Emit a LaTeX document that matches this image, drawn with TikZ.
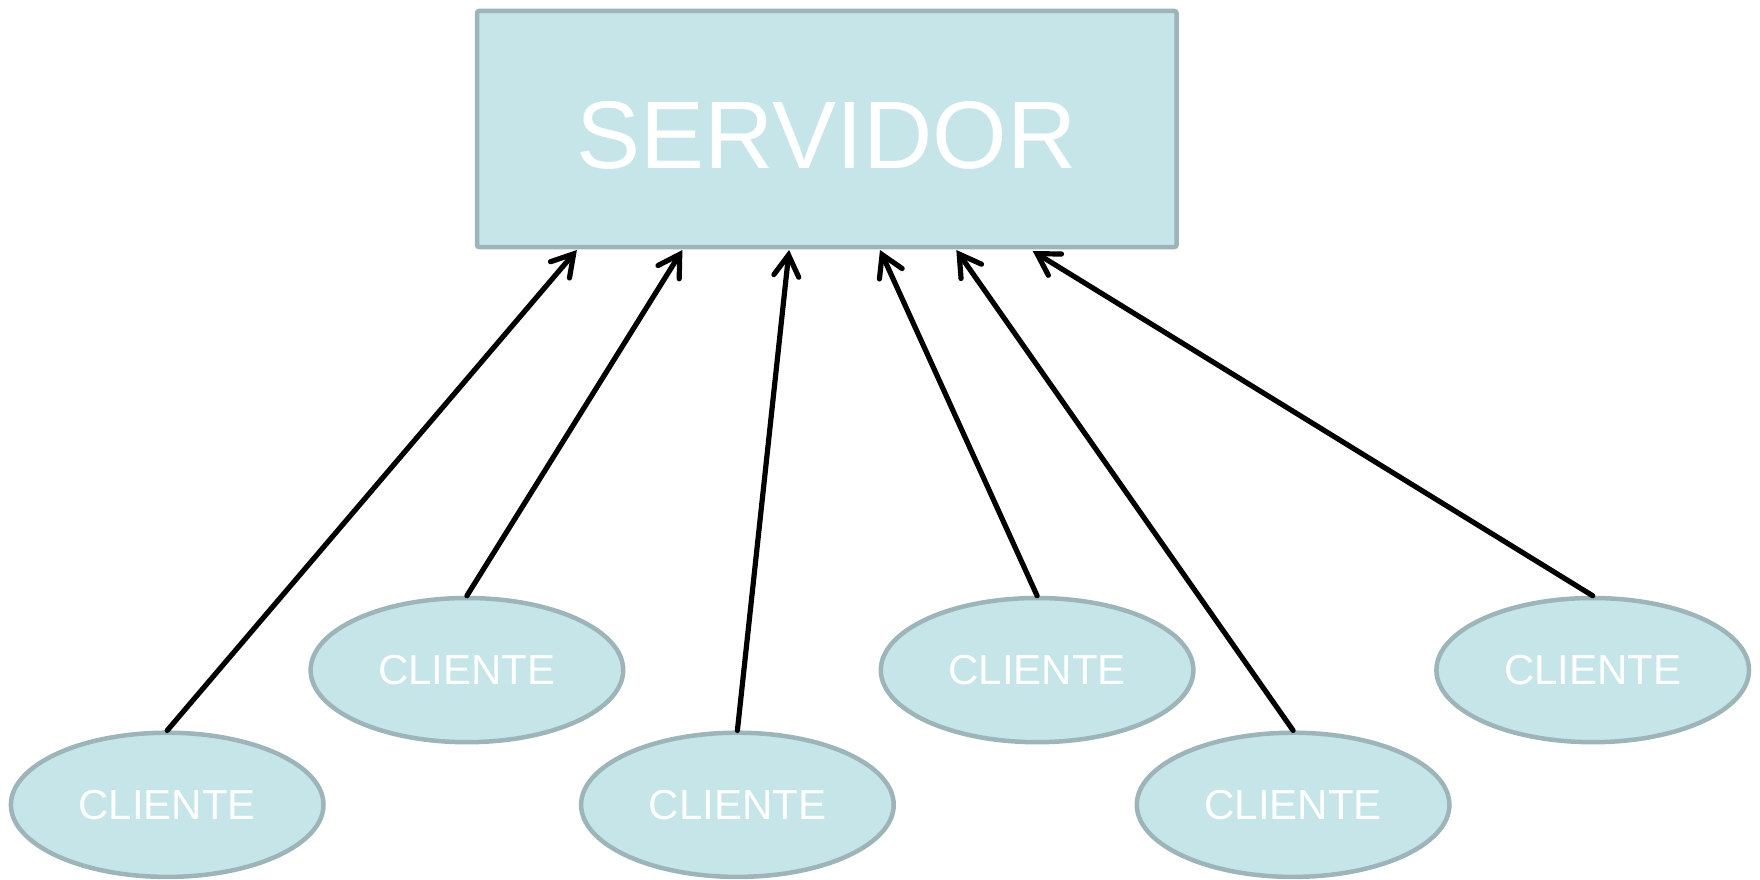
\documentclass[tikz,border=0pt]{standalone}
\usepackage{fontspec}
\setmainfont{Liberation Sans}
\usetikzlibrary{shapes.geometric,arrows.meta}
\definecolor{boxfill}{HTML}{C5E5E8}
\definecolor{boxline}{HTML}{9DB5B9}
\tikzset{
  server/.style={draw=boxline, fill=boxfill, line width=4.5pt, rounded corners=2pt,
    minimum width=699.5pt, minimum height=236pt, inner sep=0pt,
    text=white, font=\fontsize{96}{96}\selectfont},
  client/.style={ellipse, draw=boxline, fill=boxfill, line width=4.5pt,
    minimum width=312.6pt, minimum height=144.2pt, inner sep=0pt,
    text=white, font=\fontsize{42}{42}\selectfont},
  link/.style={line width=5.2pt, line cap=round,
    -{Straight Barb[length=21pt, width=25pt, line width=5.2pt, line cap=round]}}
}
\begin{document}
\begin{tikzpicture}[x=1pt, y=-1pt]
\useasboundingbox (0,0) rectangle (1760,880);

\node[server] (srv) at (826.75,129) {\raisebox{-6pt}[\height][\depth]{SERVIDOR}};

\node[client] (c1) at (167.2,804.8) {CLIENTE};
\node[client] (c2) at (466.9,670.1) {CLIENTE};
\node[client] (c3) at (737.4,804.8) {CLIENTE};
\node[client] (c4) at (1037.1,670.1) {CLIENTE};
\node[client] (c5) at (1293.1,804.8) {CLIENTE};
\node[client] (c6) at (1592.7,670.1) {CLIENTE};

% attachment points along the server's lower edge
\coordinate (s1) at (576.9,250);
\coordinate (s2) at (682.4,250);
\coordinate (s3) at (789.1,250);
\coordinate (s4) at (880.0,250);
\coordinate (s5) at (956.3,250);
\coordinate (s6) at (1032.7,251);

\draw[link] (c1.north) -- (s1);
\draw[link] (c2.north) -- (s2);
\draw[link] (c3.north) -- (s3);
\draw[link] (c4.north) -- (s4);
\draw[link] (c5.north) -- (s5);
\draw[link] (c6.north) -- (s6);
\end{tikzpicture}
\end{document}
